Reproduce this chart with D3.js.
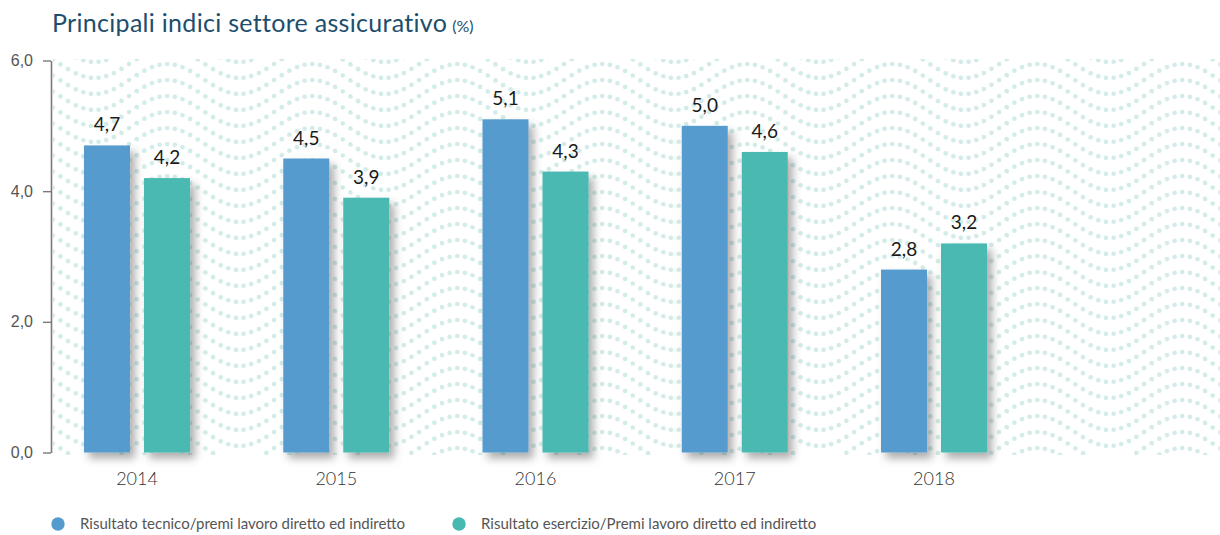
<!DOCTYPE html>
<html>
<head>
<meta charset="utf-8">
<script src="https://cdnjs.cloudflare.com/ajax/libs/d3/7.8.5/d3.min.js"></script>
<style>
  body { margin: 0; background: #fff; }
  svg { display: block; font-family: "Lato", "Noto Sans", sans-serif; }
</style>
</head>
<body>
<div id="chart"></div>
<script>
// data
var years = ["2014", "2015", "2016", "2017", "2018"];
var seriesNames = [
    "Risultato tecnico/premi lavoro diretto ed indiretto",
    "Risultato esercizio/Premi lavoro diretto ed indiretto"
];
var tecnico = [4.7, 4.5, 5.1, 5.0, 2.8];
var esercizio = [4.2, 3.9, 4.3, 4.6, 3.2];
var yTicks = [0, 2, 4, 6];

var colors = ["#569bce", "#48b9b1"];

var svgWidth = 1220;
var svgHeight = 535;

var margin = { top: 60.5, left: 51, bottom: 82.5 };
var height = svgHeight - margin.top - margin.bottom;

var svg = d3.select("#chart")
    .append("svg")
    .attr("width", svgWidth)
    .attr("height", svgHeight);

var defs = svg.append("defs");

var shadow = defs.append("filter")
    .attr("id", "shadow")
    .attr("x", "-30%").attr("y", "-10%")
    .attr("width", "180%").attr("height", "130%");
shadow.append("feDropShadow")
    .attr("dx", 5).attr("dy", 6)
    .attr("stdDeviation", 4)
    .attr("flood-color", "#000")
    .attr("flood-opacity", 0.32);

defs.append("clipPath").attr("id", "bgclip")
    .append("rect")
    .attr("x", 53).attr("y", 59)
    .attr("width", svgWidth - 53).attr("height", 396);

// wavy dotted background
var bg = svg.append("g").attr("clip-path", "url(#bgclip)");
var waveLen = 145, amp = 15, rowGap = 16, dotGap = waveLen / 19;
var dots = [];
for (var y0 = -17; y0 < 500; y0 += rowGap) {
    for (var x = 7; x < svgWidth + 5; x += dotGap) {
        dots.push([x, y0 - amp * Math.cos(2 * Math.PI * (x - 22) / waveLen)]);
    }
}
bg.selectAll("circle")
    .data(dots)
    .enter()
    .append("circle")
    .attr("cx", d => d[0])
    .attr("cy", d => d[1])
    .attr("r", 2.35)
    .attr("fill", "#d3ece9");

// scales
var itLocale = d3.formatLocale({ decimal: ",", thousands: ".", grouping: [3], currency: ["€", ""] });
var fmt = itLocale.format(".1f");

var x0 = d3.scaleBand()
    .domain(years)
    .range([37.4, 1033.6]);

var x1 = d3.scaleBand()
    .domain([0, 1])
    .range([0, 106])
    .paddingInner(0.2333);

var yScale = d3.scaleLinear()
    .domain([0, 6])
    .range([margin.top + height, margin.top]);

// y axis
var yAxis = svg.append("g")
    .attr("transform", `translate(${margin.left},0)`)
    .call(d3.axisLeft(yScale)
        .tickValues(yTicks)
        .tickFormat(fmt)
        .tickSize(8)
        .tickSizeOuter(0)
        .tickPadding(10));

yAxis.select(".domain")
    .attr("stroke", "#7a7a7a")
    .attr("stroke-width", 1.6);
yAxis.selectAll(".tick line")
    .attr("stroke", "#7a7a7a")
    .attr("stroke-width", 1.4);
yAxis.selectAll(".tick text")
    .attr("fill", "#555")
    .attr("font-size", 16)
    .attr("font-weight", 300);

// bars
var rows = years.map(function (yr, i) {
    return { year: yr, values: [tecnico[i], esercizio[i]] };
});

var groups = svg.append("g").selectAll("g")
    .data(rows)
    .enter()
    .append("g")
    .attr("transform", d => `translate(${x0(d.year) + x0.bandwidth() / 2 - 53},0)`);

groups.selectAll("rect")
    .data(d => d.values.map((v, s) => ({ s: s, v: v })))
    .enter()
    .append("rect")
    .attr("x", d => x1(d.s))
    .attr("y", d => yScale(d.v))
    .attr("width", x1.bandwidth())
    .attr("height", d => yScale(0) - yScale(d.v))
    .attr("fill", d => colors[d.s])
    .attr("filter", "url(#shadow)");

groups.selectAll("text.val")
    .data(d => d.values.map((v, s) => ({ s: s, v: v })))
    .enter()
    .append("text")
    .attr("class", "val")
    .attr("x", d => x1(d.s) + x1.bandwidth() / 2)
    .attr("y", d => yScale(d.v) - 14)
    .attr("text-anchor", "middle")
    .attr("font-size", 19)
    .attr("fill", "#1a1a1a")
    .text(d => fmt(d.v));

// year labels
svg.append("g").selectAll("text")
    .data(years)
    .enter()
    .append("text")
    .attr("x", d => x0(d) + x0.bandwidth() / 2)
    .attr("y", 485)
    .attr("text-anchor", "middle")
    .attr("font-size", 18)
    .attr("font-weight", 300)
    .attr("fill", "#333")
    .text(d => d);

// title
var title = svg.append("text")
    .attr("x", 52)
    .attr("y", 32)
    .attr("fill", "#1d4e6c")
    .attr("font-size", 25)
    .attr("letter-spacing", 0.3);
title.append("tspan").text("Principali indici settore assicurativo");
title.append("tspan").attr("font-size", 16).attr("dx", 5).attr("letter-spacing", 0).text("(%)");

// legend
var legendX = [58, 459];
var legend = svg.append("g").selectAll("g")
    .data(seriesNames)
    .enter()
    .append("g")
    .attr("transform", (d, i) => `translate(${legendX[i]},524)`);

legend.append("circle")
    .attr("r", 6.7)
    .attr("fill", (d, i) => colors[i]);

legend.append("text")
    .attr("x", 22)
    .attr("y", 5)
    .attr("font-size", 15)
    .attr("fill", "#555")
    .text(d => d);
</script>
</body>
</html>
